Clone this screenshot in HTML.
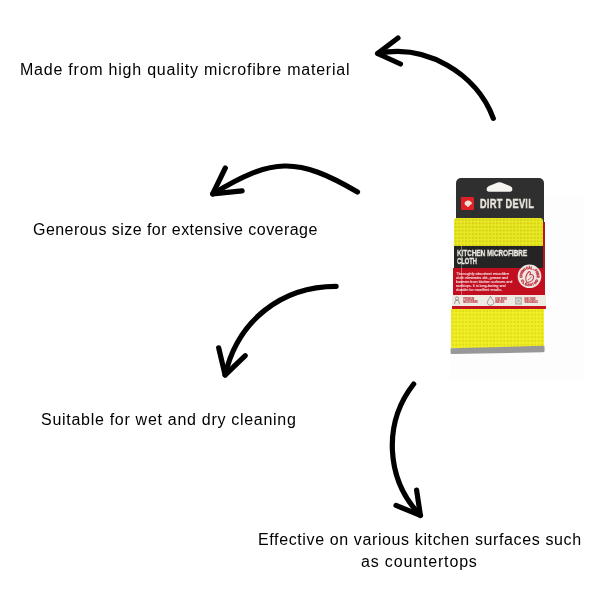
<!DOCTYPE html>
<html>
<head>
<meta charset="utf-8">
<style>
html,body{margin:0;padding:0;background:#fff;}
body{width:600px;height:600px;position:relative;overflow:hidden;font-family:"Liberation Sans",sans-serif;color:#000;}
.t{position:absolute;font-size:16px;line-height:20px;white-space:nowrap;will-change:transform;}
svg.arrows{position:absolute;left:0;top:0;}
.p{position:absolute;}
#dd,#kmc1,#kmc2,#body{will-change:transform;}
.yel{background-color:#f0ee24;background-image:radial-gradient(circle at 50% 50%, rgba(185,180,0,.32) 0 0.75px, rgba(185,180,0,0) 1.45px);background-size:3.45px 3.75px;}
.yel1{background-color:#e9e824;background-image:radial-gradient(circle at 50% 50%, rgba(175,170,0,.4) 0 0.75px, rgba(175,170,0,0) 1.45px);background-size:3.45px 3.6px;}
</style>
</head>
<body>
<div class="t" id="t1" style="letter-spacing:0.77px;left:20px;top:60px;">Made from high quality microfibre material</div>
<div class="t" id="t2" style="letter-spacing:0.45px;left:33px;top:220px;">Generous size for extensive coverage</div>
<div class="t" id="t3" style="letter-spacing:0.71px;left:41px;top:410px;">Suitable for wet and dry cleaning</div>
<div class="t" id="t4a" style="letter-spacing:0.62px;left:258px;top:530px;">Effective on various kitchen surfaces such</div>
<div class="t" id="t4b" style="letter-spacing:0.84px;left:361px;top:552px;">as countertops</div>


<div class="p" style="left:449.5px;top:197px;width:134.5px;height:181.5px;background:#fdfdfd;"></div>
<div id="card">
<!-- header -->
<div class="p" style="left:455.8px;top:177.8px;width:88px;height:44px;background:#2f2f2f;border-radius:5px 5px 0 0;"></div>
<div class="p" style="left:542.6px;top:222px;width:2.6px;height:74px;background:#b8141c;"></div>
<!-- hang hole -->
<svg class="p" style="left:0;top:0" width="600" height="600" viewBox="0 0 600 600">
<path d="M489 191.7 Q486.6 191.7 486.6 189 Q486.8 186.9 489 185.9 L497.6 182.5 Q499.4 181.9 501.2 182.5 L510 185.9 Q512.4 186.9 512.4 189 Q512.3 191.7 510 191.7 Z" fill="#f6f4f0"/>
</svg>
<!-- logo -->
<div class="p" style="left:461.4px;top:197.3px;width:12.9px;height:12.4px;background:#e11f26;border-radius:1px;"></div>
<svg class="p" style="left:0;top:0" width="600" height="600" viewBox="0 0 600 600"><path d="M464.6 203.8 C464.4 202.2 465.6 201 467 200.7 C468.2 200.2 469.8 200.6 470.6 201.4 C471.6 201.8 472 203 471.6 203.9 C471.2 204.6 470.3 204.4 469.8 205.2 C469.4 206.2 468.6 206.8 467.8 206.9 C467 207 466.9 205.9 466.2 205.6 C465.3 205.3 464.7 204.7 464.6 203.8 Z" fill="#ece4d6"/></svg>
<!-- DIRT DEVIL -->
<div class="p" id="dd" style="left:480.3px;top:198px;font-weight:bold;font-size:12px;line-height:12px;color:#ebe7df;white-space:nowrap;transform-origin:0 0;transform:scaleX(0.76);letter-spacing:0.45px;-webkit-text-stroke:0.5px #ebe7df;">DIRT DEVIL</div>
<!-- yellow band 1 -->
<div class="p yel1" style="left:454.3px;top:217.7px;width:88.5px;height:28.6px;border-radius:3px 3px 0 0;"></div>

<!-- black band -->
<div class="p" style="left:453.7px;top:245.8px;width:89.8px;height:22.2px;background:#242424;"></div>
<div class="p" id="kmc1" style="left:456.7px;top:248.7px;font-weight:bold;font-size:9.2px;line-height:9px;color:#ece9e3;white-space:nowrap;transform-origin:0 0;transform:scaleX(0.69);-webkit-text-stroke:0.3px #ece9e3;">KITCHEN MICROFIBRE</div><div class="p" id="kmc2" style="left:456.7px;top:257px;font-weight:bold;font-size:9.2px;line-height:9px;color:#ece9e3;white-space:nowrap;transform-origin:0 0;transform:scaleX(0.63);-webkit-text-stroke:0.3px #ece9e3;">CLOTH</div>
<!-- red band -->
<div class="p" style="left:452.8px;top:268px;width:92.3px;height:27.4px;background:#c20f1f;"></div>
<div class="p" id="body" style="left:456.4px;top:271.6px;font-size:4.4px;line-height:3.87px;color:#f3e2e2;white-space:nowrap;transform-origin:0 0;transform:scaleX(0.84);-webkit-text-stroke:0.12px #f3e2e2;">Thoroughly absorbent microfibre<br>cloth eliminates dirt, grease and<br>bacteria from kitchen surfaces and<br>worktops. It is long-lasting and<br>durable for excellent results.</div>
<!-- badge -->
<svg class="p" style="left:0;top:0" width="600" height="600" viewBox="0 0 600 600">
<circle cx="529.5" cy="276.3" r="11.8" fill="#efe6e1"/>
<g font-family="Liberation Sans" font-weight="bold" font-size="3.4" fill="#c23a46" stroke="#c23a46" stroke-width="0.35" text-anchor="middle">
<text x="522.11" y="276.69" transform="rotate(-93.0 522.11 276.69)">C</text>
<text x="522.28" y="274.70" transform="rotate(-77.5 522.28 274.70)">H</text>
<text x="522.97" y="272.83" transform="rotate(-62.0 522.97 272.83)">E</text>
<text x="524.13" y="271.21" transform="rotate(-46.5 524.13 271.21)">M</text>
<text x="525.69" y="269.96" transform="rotate(-31.0 525.69 269.96)">I</text>
<text x="527.52" y="269.17" transform="rotate(-15.5 527.52 269.17)">C</text>
<text x="529.50" y="268.90" transform="rotate(0.0 529.50 268.90)">A</text>
<text x="531.48" y="269.17" transform="rotate(15.5 531.48 269.17)">L</text>
<text x="533.31" y="269.96" transform="rotate(31.0 533.31 269.96)">-</text>
<text x="534.87" y="271.21" transform="rotate(46.5 534.87 271.21)">F</text>
<text x="536.03" y="272.83" transform="rotate(62.0 536.03 272.83)">R</text>
<text x="536.72" y="274.70" transform="rotate(77.5 536.72 274.70)">E</text>
<text x="536.89" y="276.69" transform="rotate(93.0 536.89 276.69)">E</text>
<text x="521.30" y="281.48" transform="rotate(57.8 521.30 281.48)">C</text>
<text x="523.10" y="283.59" transform="rotate(41.2 523.10 283.59)">L</text>
<text x="525.44" y="285.11" transform="rotate(24.8 525.44 285.11)">E</text>
<text x="528.11" y="285.90" transform="rotate(8.2 528.11 285.90)">A</text>
<text x="530.89" y="285.90" transform="rotate(-8.2 530.89 285.90)">N</text>
<text x="533.56" y="285.11" transform="rotate(-24.8 533.56 285.11)">I</text>
<text x="535.90" y="283.59" transform="rotate(-41.2 535.90 283.59)">N</text>
<text x="537.70" y="281.48" transform="rotate(-57.8 537.70 281.48)">G</text>
</g>
<g transform="translate(530 276.5) scale(1.2) translate(-530 -276.5)"><path d="M527.5 281.5 C526 279 526.5 275.5 528.5 273 C529.3 272 530.5 272.3 530.3 273.8 L530 275 C531.5 274.5 533.2 275.2 533 277 C532.7 279.5 530.5 281.5 527.5 281.5 Z" fill="none" stroke="#c23a46" stroke-width="0.9"/><path d="M528.3 279.5 C529.5 278.5 530.5 277.5 531.5 276.5" fill="none" stroke="#c23a46" stroke-width="0.6"/></g>
</svg>
<div class="p" style="left:461px;top:246px;width:1.1px;height:49px;background:rgba(255,255,255,.35);"></div>
<!-- white stripe -->
<div class="p" style="left:451.9px;top:295.3px;width:94px;height:10.4px;background:#efeae2;"></div>
<svg class="p" style="left:0;top:0" width="600" height="600" viewBox="0 0 600 600">
<g fill="none" stroke="#777" stroke-width="0.7">
<circle cx="457" cy="298.5" r="1.6"/>
<path d="M454.5 304 L455.5 300.5 L458.5 300.5 L459.6 304"/>
<path d="M490.5 296.3 C489 299.5 487.3 301 487.3 302.6 C487.3 304.3 488.8 305.2 490.5 305.2 C492.2 305.2 493.8 304.3 493.8 302.6 C493.8 301 492 299.5 490.5 296.3 Z"/>
</g>
<rect x="515" y="297" width="7" height="7.7" fill="#b9b6b2"/>
<circle cx="518.5" cy="300.9" r="2" fill="none" stroke="#eee" stroke-width="0.8"/>
<g fill="#c24652" font-family="Liberation Sans" font-weight="bold" font-size="2.8" stroke="#c24652" stroke-width="0.15">
<text x="463.3" y="299.9" textLength="11" lengthAdjust="spacingAndGlyphs">PREMIUM</text>
<text x="463.3" y="302.7" textLength="14.6" lengthAdjust="spacingAndGlyphs">MICROFIBRE</text>
<text x="495.3" y="299.9" textLength="11.5" lengthAdjust="spacingAndGlyphs">USE WITH</text>
<text x="495.3" y="302.7" textLength="9" lengthAdjust="spacingAndGlyphs">WATER</text>
<text x="524.6" y="299.9" textLength="11" lengthAdjust="spacingAndGlyphs">MACHINE</text>
<text x="524.6" y="302.7" textLength="13.4" lengthAdjust="spacingAndGlyphs">WASHABLE</text>
</g>
</svg>
<!-- red bottom -->
<div class="p" style="left:451.6px;top:305.6px;width:94px;height:3.8px;background:#c4141f;"></div>
<!-- yellow 2 -->
<div class="p yel" style="left:450.8px;top:309.3px;width:93.4px;height:39px;"></div>
<!-- gray -->
<svg class="p" style="left:0;top:0" width="600" height="600" viewBox="0 0 600 600">
<path d="M450.6 348.2 L544.4 345.8 L544.6 350.5 C544.6 351.6 544 352.1 543 352.2 L452 354.1 C451 354.1 450.6 353.6 450.6 352.8 Z" fill="#989898"/>
</svg>
</div>

<svg class="arrows" width="600" height="600" viewBox="0 0 600 600">
<g fill="none" stroke="#000" stroke-width="5.2" stroke-linecap="round" stroke-linejoin="round">
<path d="M 378.0 53.5 C 425.5 43.4 476.7 73.2 493.3 118.3"/>
<path d="M 398 38 L 377.5 53.5 L 400.5 64"/>
<path d="M 212.7 193.9 C 272.0 157.6 297.3 156.5 357.5 192.0"/>
<path d="M 225.3 168 L 212.7 193.9 L 242.1 190.8"/>
<path d="M 225.1 375.0 C 237.6 320.9 281.1 286.3 336.1 286.3"/>
<path d="M 218.7 347.9 L 225.1 375 L 245.3 355.7"/>
<path d="M 420.4 515.4 C 385.9 479.8 382.6 423.6 413.7 384.0"/>
<path d="M 416.6 490.1 L 420.4 515.4 L 396 505.4"/>
</g>
</svg>
</body>
</html>
